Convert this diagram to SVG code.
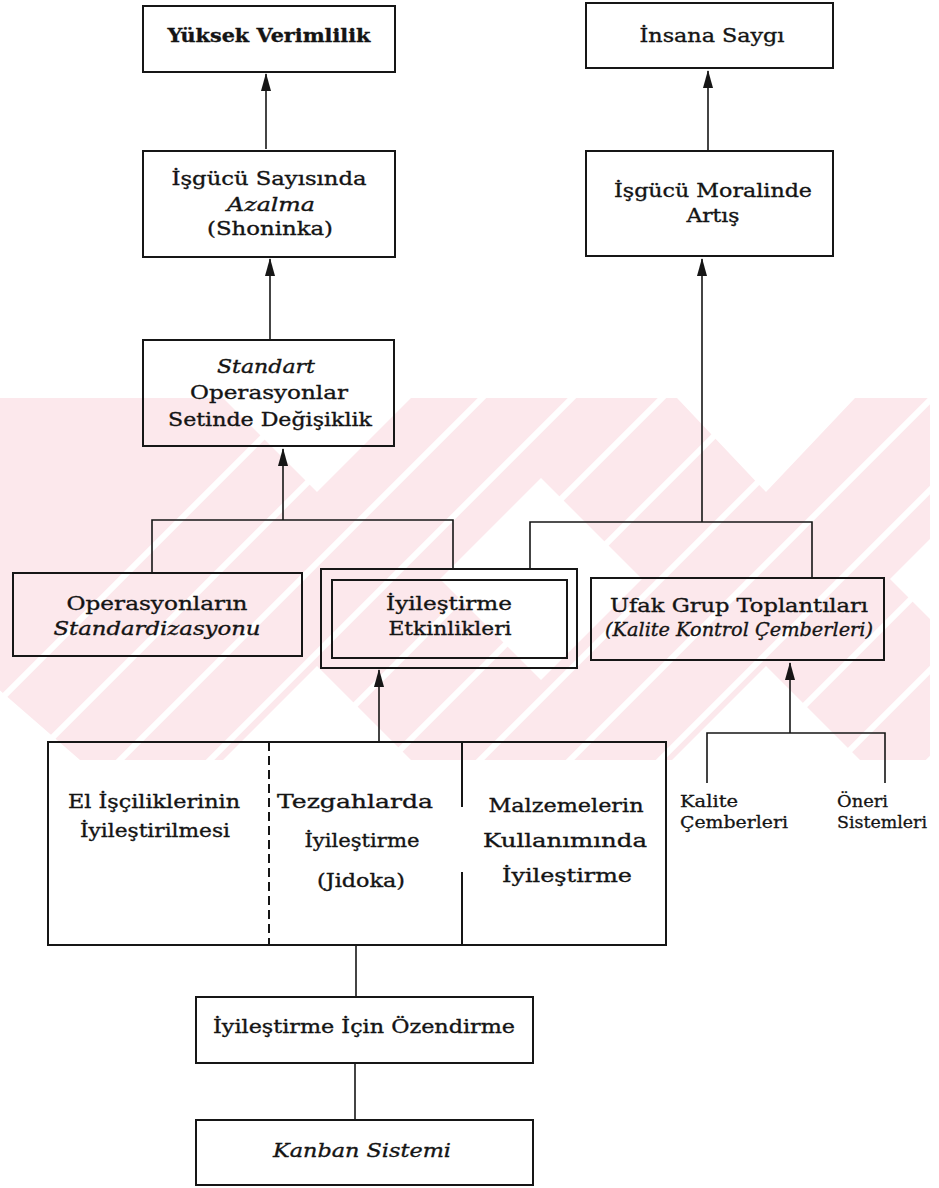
<svg xmlns="http://www.w3.org/2000/svg" width="939" height="1188" viewBox="0 0 939 1188">
<style>
  .box{fill:none;stroke:#161616;stroke-width:2}
  .ln{fill:none;stroke:#161616;stroke-width:1.6}
  .t{font-family:"DejaVu Serif","Liberation Serif",serif;font-size:19px;fill:#141414;stroke:#141414;stroke-width:0.35;text-anchor:middle}
  .s{font-family:"DejaVu Serif","Liberation Serif",serif;font-size:17px;fill:#141414;stroke:#141414;stroke-width:0.3;text-anchor:start}
  .i{font-style:italic}
  .wm{fill:#fce8ec}
  .ws{stroke:#ffffff;stroke-width:6;fill:none}
</style>
<defs>
  <marker id="arr" viewBox="0 0 18 10" refX="17" refY="5" markerWidth="18" markerHeight="10" markerUnits="userSpaceOnUse" orient="auto">
    <path d="M0,0 L18,5 L0,10 z" fill="#161616"/>
  </marker>
  <clipPath id="band"><rect x="0" y="398" width="930" height="363"/></clipPath>
</defs>
<rect width="939" height="1188" fill="#ffffff"/>
<g id="watermark" clip-path="url(#band)">
  <polygon class="wm" points="-150,398 223,398 317,492 411,398 677,398 766,492 855,398 1100,398 1100,760 860,760 766,666 672,760 411,760 317,666 223,760 80,760 -150,560"/>
  <polygon fill="#ffffff" points="440,579 541,478 642,579 541,680"/>
  <polygon fill="#ffffff" points="890,579 990,479 1090,579 990,679"/>
  <g class="ws">
    <line x1="-100" y1="800" x2="320" y2="380"/>
    <line x1="-10" y1="800" x2="410" y2="380"/>
    <line x1="80" y1="800" x2="500" y2="380"/>
    <line x1="170" y1="800" x2="590" y2="380"/>
    <line x1="260" y1="800" x2="680" y2="380"/>
    <line x1="350" y1="800" x2="770" y2="380"/>
    <line x1="440" y1="800" x2="860" y2="380"/>
    <line x1="530" y1="800" x2="950" y2="380"/>
    <line x1="620" y1="800" x2="1040" y2="380"/>
    <line x1="710" y1="800" x2="1130" y2="380"/>
    <line x1="800" y1="800" x2="1220" y2="380"/>
    <line x1="890" y1="800" x2="1310" y2="380"/>
  </g>
</g>
<g id="connectors">
  <line class="ln" x1="266" y1="149" x2="266" y2="74" marker-end="url(#arr)"/>
  <line class="ln" x1="270" y1="339" x2="270" y2="259" marker-end="url(#arr)"/>
  <line class="ln" x1="283" y1="520" x2="283" y2="449" marker-end="url(#arr)"/>
  <path class="ln" d="M152,573 V520 H453 V569"/>
  <line class="ln" x1="702" y1="522" x2="702" y2="259" marker-end="url(#arr)"/>
  <line class="ln" x1="708" y1="150" x2="708" y2="71" marker-end="url(#arr)"/>
  <path class="ln" d="M530,569 V522 H812 V578"/>
  <line class="ln" x1="379" y1="742" x2="379" y2="670" marker-end="url(#arr)"/>
  <line class="ln" x1="790" y1="733" x2="790" y2="663" marker-end="url(#arr)"/>
  <path class="ln" d="M707,783 V733 H885 V783"/>
  <line class="ln" x1="356" y1="945" x2="356" y2="997"/>
  <line class="ln" x1="355" y1="1063" x2="355" y2="1120"/>
</g>
<g id="n-yuksek">
  <rect class="box" x="143" y="6" width="252" height="66"/>
  <text class="t" x="269" y="42" textLength="203" lengthAdjust="spacingAndGlyphs" font-weight="bold">Yüksek Verimlilik</text>
</g>
<g id="n-sayi">
  <rect class="box" x="143" y="151" width="252" height="106"/>
  <text class="t" x="269" y="185" textLength="195" lengthAdjust="spacingAndGlyphs">İşgücü Sayısında</text>
  <text class="t i" x="271" y="211" textLength="88" lengthAdjust="spacingAndGlyphs">Azalma</text>
  <text class="t" x="270" y="235" textLength="126" lengthAdjust="spacingAndGlyphs">(Shoninka)</text>
</g>
<g id="n-standart">
  <rect class="box" x="143" y="340" width="251" height="106"/>
  <text class="t i" x="266" y="373" textLength="98" lengthAdjust="spacingAndGlyphs">Standart</text>
  <text class="t" x="269" y="399" textLength="158" lengthAdjust="spacingAndGlyphs">Operasyonlar</text>
  <text class="t" x="270" y="426" textLength="204" lengthAdjust="spacingAndGlyphs">Setinde Değişiklik</text>
</g>
<g id="n-operasyon">
  <rect class="box" x="13" y="573" width="289" height="83"/>
  <text class="t" x="157" y="610" textLength="181" lengthAdjust="spacingAndGlyphs">Operasyonların</text>
  <text class="t i" x="157" y="635" textLength="207" lengthAdjust="spacingAndGlyphs">Standardizasyonu</text>
</g>
<g id="n-etkinlik">
  <rect class="box" x="321" y="569" width="256" height="99"/>
  <rect class="box" x="332" y="580" width="235" height="78"/>
  <text class="t" x="449" y="610" textLength="126" lengthAdjust="spacingAndGlyphs">İyileştirme</text>
  <text class="t" x="450" y="635" textLength="123" lengthAdjust="spacingAndGlyphs">Etkinlikleri</text>
</g>
<g id="n-ufak">
  <rect class="box" x="591" y="578" width="293" height="82"/>
  <text class="t" x="739" y="612" textLength="258" lengthAdjust="spacingAndGlyphs">Ufak Grup Toplantıları</text>
  <text class="t i" x="739" y="636" font-size="17" textLength="268" lengthAdjust="spacingAndGlyphs">(Kalite Kontrol Çemberleri)</text>
</g>
<g id="n-insana">
  <rect class="box" x="586" y="3" width="247" height="65"/>
  <text class="t" x="712" y="42" textLength="145" lengthAdjust="spacingAndGlyphs">İnsana Saygı</text>
</g>
<g id="n-moral">
  <rect class="box" x="586" y="151" width="247" height="105"/>
  <text class="t" x="713" y="197" textLength="198" lengthAdjust="spacingAndGlyphs">İşgücü Moralinde</text>
  <text class="t" x="713" y="222" textLength="53" lengthAdjust="spacingAndGlyphs">Artış</text>
</g>
<g id="n-iyilestirme-alanlari">
  <rect class="box" x="48" y="742" width="618" height="203"/>
  <line class="box" x1="269" y1="742" x2="269" y2="945" stroke-dasharray="9,5"/>
  <line class="box" x1="462" y1="742" x2="462" y2="807"/>
  <line class="box" x1="462" y1="872" x2="462" y2="945"/>
  <text class="t" x="154" y="808" textLength="172" lengthAdjust="spacingAndGlyphs">El İşçiliklerinin</text>
  <text class="t" x="155" y="837" textLength="150" lengthAdjust="spacingAndGlyphs">İyileştirilmesi</text>
  <text class="t" x="355" y="808" textLength="156" lengthAdjust="spacingAndGlyphs">Tezgahlarda</text>
  <text class="t" x="362" y="847" textLength="115" lengthAdjust="spacingAndGlyphs">İyileştirme</text>
  <text class="t" x="361" y="887" textLength="88" lengthAdjust="spacingAndGlyphs">(Jidoka)</text>
  <text class="t" x="566" y="812" textLength="155" lengthAdjust="spacingAndGlyphs">Malzemelerin</text>
  <text class="t" x="565" y="847" textLength="164" lengthAdjust="spacingAndGlyphs">Kullanımında</text>
  <text class="t" x="567" y="882" textLength="130" lengthAdjust="spacingAndGlyphs">İyileştirme</text>
</g>
<g id="n-kalite">
  <text class="s" x="680" y="807" textLength="58" lengthAdjust="spacingAndGlyphs">Kalite</text>
  <text class="s" x="680" y="828" textLength="108" lengthAdjust="spacingAndGlyphs">Çemberleri</text>
</g>
<g id="n-oneri">
  <text class="s" x="837" y="807" textLength="51" lengthAdjust="spacingAndGlyphs">Öneri</text>
  <text class="s" x="837" y="828" textLength="90" lengthAdjust="spacingAndGlyphs">Sistemleri</text>
</g>
<g id="n-ozendirme">
  <rect class="box" x="196" y="997" width="337" height="66"/>
  <text class="t" x="364" y="1033" textLength="302" lengthAdjust="spacingAndGlyphs">İyileştirme İçin Özendirme</text>
</g>
<g id="n-kanban">
  <rect class="box" x="196" y="1120" width="337" height="65"/>
  <text class="t i" x="362" y="1157" textLength="178" lengthAdjust="spacingAndGlyphs">Kanban Sistemi</text>
</g>
</svg>
